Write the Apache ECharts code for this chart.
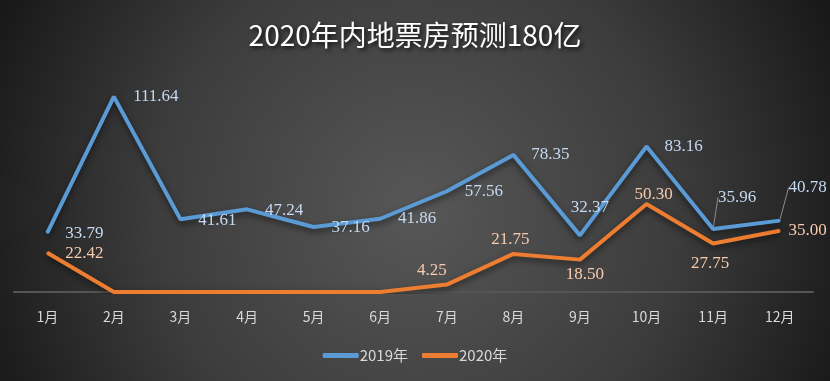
<!DOCTYPE html>
<html>
<head>
<meta charset="utf-8">
<script src="https://cdn.jsdelivr.net/npm/echarts@6/dist/echarts.min.js"></script>
<style>html,body{margin:0;padding:0;background:#333;}#c{width:830px;height:381px;}</style>
</head>
<body>
<div id="c"></div>
<script>
const title = '2020年内地票房预测180亿';
const categories = ['1月','2月','3月','4月','5月','6月','7月','8月','9月','10月','11月','12月'];
const seriesNames = ['2019年','2020年'];
const values2019 = [33.79,111.64,41.61,47.24,37.16,41.86,57.56,78.35,32.37,83.16,35.96,40.78];
const values2020 = [22.42,0,0,0,0,0,4.25,21.75,18.50,50.30,27.75,35.00];

// label offsets (style only)
const offs2019 = [[37,1],[42,0],[37,1],[37,1],[37,1],[37,0],[37,0],[37,0],[10,-28],[37,0],[24,-32],[28,-33]];
const offs2020 = [[37,1],[0,0],[0,0],[0,0],[0,0],[0,0],[-15,-14],[-3,-14],[5,15],[7,-9],[-3,20],[28,0]];
const leaderIdx2019 = [10,11];

const chart = echarts.init(document.getElementById('c'), null, {renderer:'canvas'});
const labelFont = {fontFamily:'Liberation Serif', fontSize:17};

function mkData(vals, leaders){
  return vals.map((v,i)=> leaders && leaders.indexOf(i)>=0
    ? {value:v, labelLine:{show:true, lineStyle:{color:'#8c8c8c', width:1}}}
    : v);
}

chart.setOption({
  backgroundColor:{type:'radial', x:0.5, y:0.55, r:1.25,
    colorStops:[{offset:0,color:'#575757'},{offset:0.55,color:'#3c3c3c'},{offset:1,color:'#151515'}]},
  title:{text:title, left:'center', top:16,
    textStyle:{color:'#ffffff', fontFamily:'Noto Sans CJK SC', fontSize:28, fontWeight:'normal',
      textShadowColor:'rgba(0,0,0,0.8)', textShadowBlur:4, textShadowOffsetX:2, textShadowOffsetY:2}},
  grid:{left:14, right:17, top:47, bottom:89},
  legend:{data:seriesNames, bottom:13, left:'center', icon:'roundRect', itemWidth:36, itemHeight:5, itemGap:14,
    textStyle:{color:'#d9d9d9', fontFamily:'Noto Sans CJK SC', fontSize:15, padding:[0,0,0,-4]}},
  xAxis:{type:'category', data:categories, boundaryGap:true,
    axisLine:{lineStyle:{color:'#555555', width:2}}, axisTick:{show:false},
    axisLabel:{color:'#d9d9d9', fontFamily:'Noto Sans CJK SC', fontSize:14, margin:18}},
  yAxis:{type:'value', min:0, max:140, show:false, splitLine:{show:false}},
  series:[
    {name:seriesNames[0], type:'line', data:mkData(values2019, leaderIdx2019),
      symbol:'circle', symbolSize:2, showSymbol:true, color:'#5b9bd5',
      lineStyle:{width:4, color:'#5b9bd5', shadowColor:'rgba(0,0,0,0.55)', shadowBlur:6, shadowOffsetY:3},
      label:{show:true, position:'inside', color:'#c5d9f1', ...labelFont,
        formatter:p=>p.value.toFixed(2)},
      labelLayout:p=>({dx:offs2019[p.dataIndex][0], dy:offs2019[p.dataIndex][1]}),
      z:3},
    {name:seriesNames[1], type:'line', data:values2020,
      symbol:'circle', symbolSize:2, showSymbol:true, color:'#ed7d31',
      lineStyle:{width:4, color:'#ed7d31', shadowColor:'rgba(0,0,0,0.55)', shadowBlur:6, shadowOffsetY:3},
      label:{show:true, position:'inside', color:'#f8cbad', ...labelFont,
        formatter:p=>p.value===0?'':p.value.toFixed(2)},
      labelLayout:p=>({dx:offs2020[p.dataIndex][0], dy:offs2020[p.dataIndex][1]}),
      z:2}
  ],
  animation:false
});
</script>
</body>
</html>
